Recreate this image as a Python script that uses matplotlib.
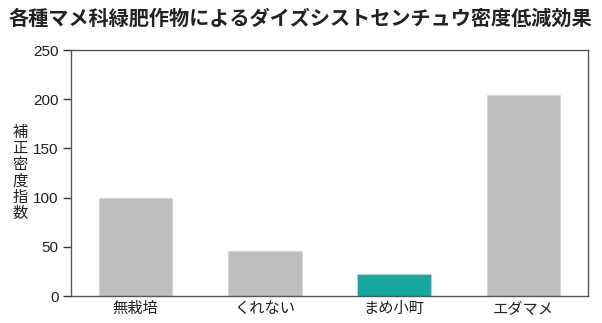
import matplotlib
matplotlib.use("Agg")
import matplotlib.pyplot as plt

plt.rcParams['font.family'] = ['Noto Sans CJK JP', 'DejaVu Sans']

title = "各種マメ科緑肥作物によるダイズシストセンチュウ密度低減効果"
categories = ["無栽培", "くれない", "まめ小町", "エダマメ"]
values = [100, 46, 22, 204]
colors = ["#BDBEC0", "#BDBEC0", "#16A89E", "#BDBEC0"]
ylabel = "補正密度指数"
yticks = [0, 50, 100, 150, 200, 250]

fig = plt.figure(figsize=(6.02, 3.23), dpi=100)
ax = fig.add_axes([71/602, 1-296/323, 517/602, 246/323])
x = list(range(len(categories)))
ax.bar(x, values, width=0.57, color=colors, edgecolor="#D0D0D0", linewidth=0.5, zorder=2)
ax.set_xlim(-0.5, 3.5)
ax.set_ylim(0, 250)
ax.set_yticks(yticks)
ax.set_yticklabels([str(v) for v in yticks], fontsize=11, color="#222222",
                   family=['Liberation Sans', 'Noto Sans CJK JP'])
ax.set_xticks(x)
ax.set_xticklabels(categories, fontsize=11, color="#222222")
ax.tick_params(axis='x', length=0, pad=3)
ax.tick_params(axis='y', length=6, width=1, color="#333333", pad=3)
for s in ax.spines.values():
    s.set_color("#555555")
    s.set_linewidth(1)
fig.text(20/602, 1-173/323, "\n".join(ylabel), ha='center', va='center', fontsize=11,
         linespacing=0.95, color="#222222")
fig.text(8/602, 1-18/323, title, ha='left', va='center', fontsize=14.5, fontweight='bold', color="#222222")
fig.savefig("out.png", dpi=100)
